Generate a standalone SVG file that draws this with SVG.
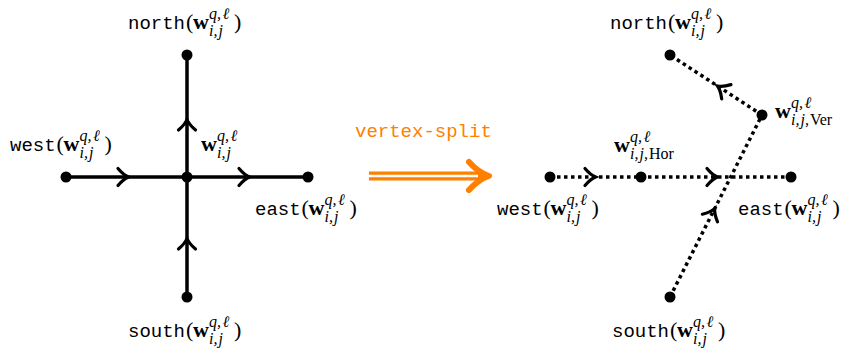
<svg xmlns="http://www.w3.org/2000/svg" width="846" height="352" viewBox="0 0 846 352">
<style>
.tt{font-family:"Liberation Mono","DejaVu Sans Mono",monospace;font-size:19px;fill:#000}
.rm{font-family:"Liberation Serif","DejaVu Serif",serif;font-size:22px;fill:#000}
.bf{font-family:"Liberation Serif","DejaVu Serif",serif;font-size:22px;font-weight:bold;fill:#000}
.it{font-family:"Liberation Serif","DejaVu Serif",serif;font-size:16px;font-style:italic;fill:#000}
.up{font-style:normal}
.solid{fill:none;stroke:#000;stroke-width:3.5}
.dot{fill:none;stroke:#000;stroke-width:3.5;stroke-dasharray:3.5 3.5}
.node{fill:#000}
</style>
<defs>
<marker id="to" markerUnits="userSpaceOnUse" markerWidth="24" markerHeight="24" viewBox="-12 -12 24 24" refX="0" refY="0" orient="auto" overflow="visible">
<path d="M-9,-8.5 Q-3.5,-2 1.5,0 Q-3.5,2 -9,8.5" fill="none" stroke="#000" stroke-width="3.2" stroke-linecap="round" stroke-dasharray="none"/>
</marker>
</defs>
<g id="connectors">
<path class="solid" d="M66,177 L127,177 L187,177" marker-mid="url(#to)"/>
<path class="solid" d="M187,177 L248,177 L308,177" marker-mid="url(#to)"/>
<path class="solid" d="M187,177 L187,121 L187,55" marker-mid="url(#to)"/>
<path class="solid" d="M187,297 L187,240 L187,177" marker-mid="url(#to)"/>
<path class="dot" d="M550,177 L594,177 L641,177" marker-mid="url(#to)"/>
<path class="dot" d="M641,177 L716,177 L791,177" marker-mid="url(#to)"/>
<path class="dot" d="M762,115 L718.8,86.8 L670,55" marker-mid="url(#to)"/>
<path class="dot" d="M670,297 L714,210 L762,115" marker-mid="url(#to)"/>
</g>
<g id="vertex-split">
<text x="355" y="137" class="tt" style="fill:#FF8000">vertex-split</text>
<path d="M369,176 L484,176" stroke="#FF8000" stroke-width="9" fill="none"/>
<path d="M369,176 L478,176" stroke="#fff" stroke-width="2.5" fill="none"/>
<path d="M469,162 Q479,173 489,176 Q479,179 469,190" stroke="#FF8000" stroke-width="6" stroke-linecap="round" stroke-linejoin="round" fill="none"/>
</g>
<g id="left-north">
<circle class="node" cx="187" cy="55" r="5.5"/>
<g transform="translate(128,29)"><text class="tt">north</text><text class="rm" x="58">(</text><text class="bf" x="65">w</text><text class="it" x="81" y="-10">q,<tspan dx="1.5">ℓ</tspan></text><text class="it" x="81" y="7">i,<tspan dx="1">j</tspan></text><text class="rm" x="106">)</text></g>
</g>
<g id="left-west">
<circle class="node" cx="66" cy="177" r="5.5"/>
<g transform="translate(10,151)"><text class="tt">west</text><text class="rm" x="46.5">(</text><text class="bf" x="53.5">w</text><text class="it" x="69.5" y="-10">q,<tspan dx="1.5">ℓ</tspan></text><text class="it" x="69.5" y="7">i,<tspan dx="1">j</tspan></text><text class="rm" x="94.5">)</text></g>
</g>
<g id="left-center">
<circle class="node" cx="187" cy="177" r="5.5"/>
<text class="bf" x="201" y="151">w</text><text class="it" x="217" y="141">q,<tspan dx="1.5">ℓ</tspan></text><text class="it" x="217" y="158">i,<tspan dx="1">j</tspan></text>
</g>
<g id="left-east">
<circle class="node" cx="308" cy="177" r="5.5"/>
<g transform="translate(255,215)"><text class="tt">east</text><text class="rm" x="46.5">(</text><text class="bf" x="53.5">w</text><text class="it" x="69.5" y="-10">q,<tspan dx="1.5">ℓ</tspan></text><text class="it" x="69.5" y="7">i,<tspan dx="1">j</tspan></text><text class="rm" x="94.5">)</text></g>
</g>
<g id="left-south">
<circle class="node" cx="187" cy="297" r="5.5"/>
<g transform="translate(128,337)"><text class="tt">south</text><text class="rm" x="58">(</text><text class="bf" x="65">w</text><text class="it" x="81" y="-10">q,<tspan dx="1.5">ℓ</tspan></text><text class="it" x="81" y="7">i,<tspan dx="1">j</tspan></text><text class="rm" x="106">)</text></g>
</g>
<g id="right-north">
<circle class="node" cx="670" cy="55" r="5.5"/>
<g transform="translate(610,29)"><text class="tt">north</text><text class="rm" x="58">(</text><text class="bf" x="65">w</text><text class="it" x="81" y="-10">q,<tspan dx="1.5">ℓ</tspan></text><text class="it" x="81" y="7">i,<tspan dx="1">j</tspan></text><text class="rm" x="106">)</text></g>
</g>
<g id="right-west">
<circle class="node" cx="550" cy="177" r="5.5"/>
<g transform="translate(497,215)"><text class="tt">west</text><text class="rm" x="46.5">(</text><text class="bf" x="53.5">w</text><text class="it" x="69.5" y="-10">q,<tspan dx="1.5">ℓ</tspan></text><text class="it" x="69.5" y="7">i,<tspan dx="1">j</tspan></text><text class="rm" x="94.5">)</text></g>
</g>
<g id="right-hor">
<circle class="node" cx="641" cy="177" r="5.5"/>
<text class="bf" x="614" y="152">w</text><text class="it" x="630" y="142">q,<tspan dx="1.5">ℓ</tspan></text><text class="it" x="630" y="159">i,<tspan dx="1">j</tspan>,<tspan class="up" dx="1">Hor</tspan></text>
</g>
<g id="right-ver">
<circle class="node" cx="762" cy="115" r="5.5"/>
<text class="bf" x="775" y="118">w</text><text class="it" x="791" y="108">q,<tspan dx="1.5">ℓ</tspan></text><text class="it" x="791" y="125">i,<tspan dx="1">j</tspan>,<tspan class="up" dx="1">Ver</tspan></text>
</g>
<g id="right-east">
<circle class="node" cx="791" cy="177" r="5.5"/>
<g transform="translate(738,215)"><text class="tt">east</text><text class="rm" x="46.5">(</text><text class="bf" x="53.5">w</text><text class="it" x="69.5" y="-10">q,<tspan dx="1.5">ℓ</tspan></text><text class="it" x="69.5" y="7">i,<tspan dx="1">j</tspan></text><text class="rm" x="94.5">)</text></g>
</g>
<g id="right-south">
<circle class="node" cx="670" cy="297" r="5.5"/>
<g transform="translate(612,337)"><text class="tt">south</text><text class="rm" x="58">(</text><text class="bf" x="65">w</text><text class="it" x="81" y="-10">q,<tspan dx="1.5">ℓ</tspan></text><text class="it" x="81" y="7">i,<tspan dx="1">j</tspan></text><text class="rm" x="106">)</text></g>
</g>
</svg>
